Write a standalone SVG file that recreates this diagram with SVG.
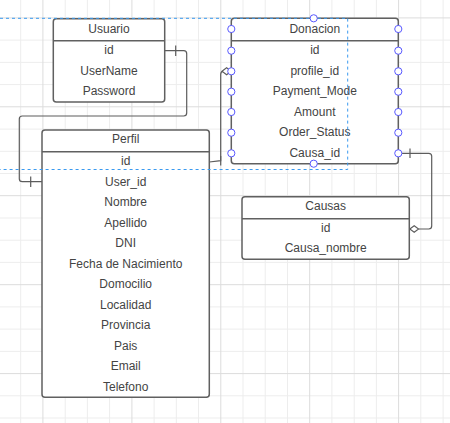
<svg xmlns="http://www.w3.org/2000/svg" width="450" height="423" viewBox="0 0 450 423">
<style>
.bg{fill:#ffffff}
.gmin{stroke:#ededed;stroke-width:1;fill:none}
.gmaj{stroke:#dcdcdc;stroke-width:1;fill:none}
.box{fill:#ffffff;stroke:#606060;stroke-width:1.5}
.div{stroke:#606060;stroke-width:1.5}
.t{font-family:"Liberation Sans",Arial,sans-serif;font-size:12px;fill:#444444;text-anchor:middle}
.edge{fill:none;stroke:#5c5c5c;stroke-width:1.2}
.dia{fill:#ffffff;stroke:#5c5c5c;stroke-width:1.1}
.pt{fill:#ffffff;stroke:#5a5aff;stroke-width:1}
.sel{fill:none;stroke:#3a9af0;stroke-width:1;stroke-dasharray:3 3}
</style>
<rect class="bg" x="0" y="0" width="450" height="423"/>
<g id="grid">
<path class="gmin" d="M20.7,0V423M65.2,0V423M87.4,0V423M109.6,0V423M154.1,0V423M176.3,0V423M198.5,0V423M243,0V423M265.2,0V423M287.5,0V423M331.9,0V423M354.2,0V423M376.4,0V423M420.8,0V423M443.1,0V423M0,40.1H450M0,62.4H450M0,84.6H450M0,129.1H450M0,151.3H450M0,173.5H450M0,218H450M0,240.2H450M0,262.4H450M0,306.9H450M0,329.1H450M0,351.4H450M0,395.8H450M0,418H450"/>
<path class="gmaj" d="M42.9,0V423M131.9,0V423M220.8,0V423M309.7,0V423M398.6,0V423M0,17.9H450M0,106.8H450M0,195.7H450M0,284.7H450M0,373.6H450"/>
</g>
<g id="connectors">
<path class="edge" d="M164.7,50.7H183.7Q186.7,50.7 186.7,53.7V113Q186.7,116 183.7,116H22.3Q19.3,116 19.3,119V178.7Q19.3,181.7 22.3,181.7H42"/>
<path class="edge" d="M175.7,45.5V56M30.7,176.5V187"/>
<path class="edge" d="M209.3,162L220.7,160.7V74.5Q220.7,71.3 223,71.3"/>
<path class="edge" d="M220.7,156V165.5"/>
<polygon class="dia" points="222,71.3 226.6,67.8 231.3,71.3 226.6,74.8"/>
<path class="edge" d="M398.3,153.3H428.7Q431.7,153.3 431.7,156.3V226Q431.7,229 428.7,229H418.5"/>
<path class="edge" d="M410,148.5V158"/>
<polygon class="dia" points="409.8,229 414.2,225.7 418.6,229 414.2,232.3"/>
</g>
<g id="usuario">
<rect class="box" x="53.3" y="18.7" width="111.4" height="83.3" rx="3"/>
<line class="div" x1="53.3" y1="40.7" x2="164.7" y2="40.7"/>
<text class="t" x="109" y="32.7">Usuario</text>
<text class="t" x="109" y="54.2">id</text>
<text class="t" x="109" y="74.7">UserName</text>
<text class="t" x="109" y="95.2">Password</text>
</g>
<g id="perfil">
<rect class="box" x="42" y="130" width="167.3" height="267.3" rx="3"/>
<line class="div" x1="42" y1="151.7" x2="209.3" y2="151.7"/>
<text class="t" x="125.7" y="143.3">Perfil</text>
<text class="t" x="125.7" y="165.3">id</text>
<text class="t" x="125.7" y="185.8">User_id</text>
<text class="t" x="125.7" y="206.3">Nombre</text>
<text class="t" x="125.7" y="226.8">Apellido</text>
<text class="t" x="125.7" y="247.3">DNI</text>
<text class="t" x="125.7" y="267.8">Fecha de Nacimiento</text>
<text class="t" x="125.7" y="288.3">Domocilio</text>
<text class="t" x="125.7" y="308.8">Localidad</text>
<text class="t" x="125.7" y="329.3">Provincia</text>
<text class="t" x="125.7" y="349.8">Pais</text>
<text class="t" x="125.7" y="370.3">Email</text>
<text class="t" x="125.7" y="390.8">Telefono</text>
</g>
<g id="donacion">
<rect class="box" x="231.3" y="18.3" width="167" height="145.4" rx="3"/>
<line class="div" x1="231.3" y1="40.7" x2="398.3" y2="40.7"/>
<text class="t" x="314.8" y="32.7">Donacion</text>
<text class="t" x="314.8" y="54.2">id</text>
<text class="t" x="314.8" y="74.7">profile_id</text>
<text class="t" x="314.8" y="95.2">Payment_Mode</text>
<text class="t" x="314.8" y="115.7">Amount</text>
<text class="t" x="314.8" y="136.2">Order_Status</text>
<text class="t" x="314.8" y="156.7">Causa_id</text>
</g>
<g id="causas">
<rect class="box" x="242" y="196.7" width="167.3" height="62.6" rx="3"/>
<line class="div" x1="242" y1="218.7" x2="409.3" y2="218.7"/>
<text class="t" x="325.7" y="210.3">Causas</text>
<text class="t" x="325.7" y="232">id</text>
<text class="t" x="325.7" y="252.4">Causa_nombre</text>
</g>
<g id="selection">
<path class="sel" d="M0,18.3H347.7V169.5H0"/>
<g id="handles">
<circle class="pt" cx="313.7" cy="18.3" r="3.6"/>
<circle class="pt" cx="313.7" cy="163.7" r="3.6"/>
<circle class="pt" cx="231.3" cy="29" r="3.6"/>
<circle class="pt" cx="231.3" cy="50.7" r="3.6"/>
<circle class="pt" cx="231.3" cy="71.3" r="3.6"/>
<circle class="pt" cx="231.3" cy="91.7" r="3.6"/>
<circle class="pt" cx="231.3" cy="112" r="3.6"/>
<circle class="pt" cx="231.3" cy="132.7" r="3.6"/>
<circle class="pt" cx="231.3" cy="153.3" r="3.6"/>
<circle class="pt" cx="398.3" cy="29" r="3.6"/>
<circle class="pt" cx="398.3" cy="50.7" r="3.6"/>
<circle class="pt" cx="398.3" cy="71.3" r="3.6"/>
<circle class="pt" cx="398.3" cy="91.7" r="3.6"/>
<circle class="pt" cx="398.3" cy="112" r="3.6"/>
<circle class="pt" cx="398.3" cy="132.7" r="3.6"/>
<circle class="pt" cx="398.3" cy="153.3" r="3.6"/>
</g>
</g>
</svg>
